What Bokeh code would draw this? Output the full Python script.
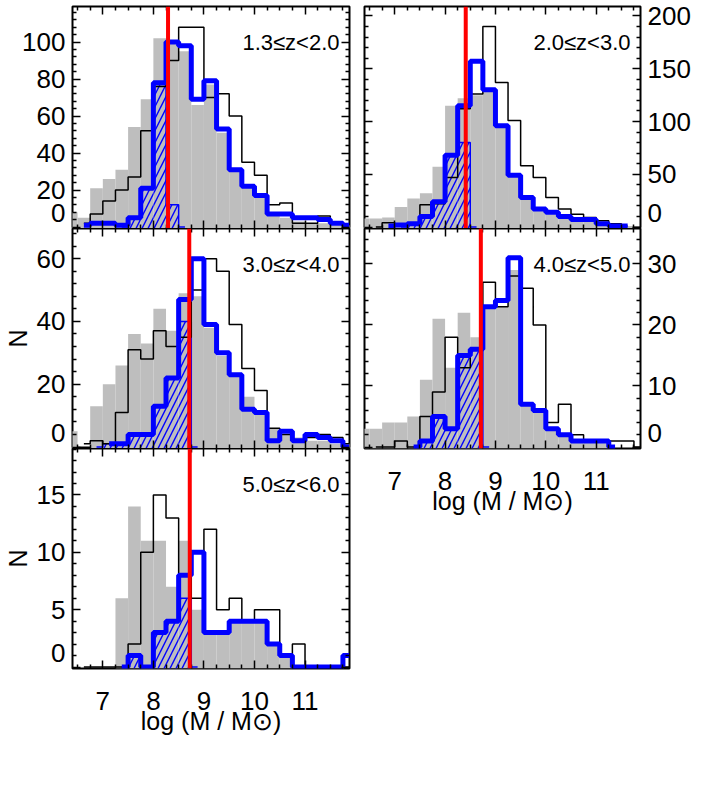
import math
from bokeh.plotting import figure
from bokeh.models import Range1d, LinearAxis, FixedTicker, Span, Label, Grid
from bokeh.layouts import row, column
from bokeh.embed import file_html
from bokeh.resources import INLINE

# ---------------- data ----------------
bin_centers = [6.375, 6.625, 6.875, 7.125, 7.375, 7.625, 7.875, 8.125, 8.375, 8.625,
               8.875, 9.125, 9.375, 9.625, 9.875, 10.125, 10.375, 10.625, 10.875,
               11.125, 11.375, 11.625, 11.875]
bin_width = 0.25
x_ticks = [7, 8, 9, 10, 11]
x_lim = (6.4, 11.88)

z_labels = ["1.3\u2264z<2.0", "2.0\u2264z<3.0", "3.0\u2264z<4.0", "4.0\u2264z<5.0", "5.0\u2264z<6.0"]
cuts = [8.29, 8.41, 8.71, 8.71, 8.72]
y_max = [119.2, 209.0, 69.6, 35.8, 19.05]
y_ticks = [[0, 20, 40, 60, 80, 100], [0, 50, 100, 150, 200], [0, 20, 40, 60],
           [0, 10, 20, 30], [0, 5, 10, 15]]
y_minor_step = [4, 10, 4, 2, 1]

gray_1 = [8, 5, 21, 26, 31, 54, 69, 102, 100, 95, 66, 77, 51, 30, 22, 16, 8, 5, 3, 2, 2, 1, 1]
black_1 = [None, 2, 7, 14, 20, 27, 52, 76, 90, 108, 108, 70, 72, 60, 35, 28, 12, 13, 2, 2, 6, 2, 1]
blue_1 = [None, 1, 2, 2, 1, 5, 21, 78, 100, 98, 69, 79, 53, 31, 22, 17, 7, 7, 5, 5, 4, 2, 1]
hatch_1 = [0, 0, 0, 0, 0, 5, 21, 77, 12, 0, 0, 0, 0, 0, 0, 0, 0, 0, 0, 0, 0, 0, 0]

gray_2 = [8, 8, 9, 19, 27, 32, 57, 115, 122, 125, 128, 95, 48, 28, 17, 12, 9, 7, 6, 4, 2, 1, 0]
black_2 = [None, 0, 4, 3, 3, 21, 22, 47, 112, 126, 190, 137, 101, 58, 47, 28, 17, 12, 9, 6, 3, 1, None]
blue_2 = [None, None, 1, 2, 3, 10, 24, 68, 115, 157, 130, 96, 49, 28, 17, 14, 10, 7, 7, 3, 1, 1, None]
hatch_2 = [0, 0, 0, 0, 3, 10, 24, 68, 80, 0, 0, 0, 0, 0, 0, 0, 0, 0, 0, 0, 0, 0, 0]

gray_3 = [5, 0, 13, 20, 26, 36, 33, 44, 37, 49, 48, 38, 29, 23, 16, 11, 6, 4, 3, 2, 2, 1, 1]
black_3 = [None, 1, 2, 1, 11, 31, 28, 37, 32, 35, 50, 60, 56, 39, 25, 18, 6, 4, 2, 3, 4, 3, 1]
blue_3 = [None, None, None, 1, 1, 4, 4, 13, 22, 47, 60, 39, 30, 23, 12, 11, 2, 5, 2, 4, 3, 2, 0]
hatch_3 = [0, 0, 0, 1, 1, 4, 4, 13, 22, 40, 0, 0, 0, 0, 0, 0, 0, 0, 0, 0, 0, 0, 0]

gray_4 = [3, 3, 4, 4, 5, 11, 21, 13, 22, 18, 23, 23, 29, 7, 6, 3, 2, 1, 1, 1, 0, 0, 0]
black_4 = [None, 0, 0, 1, 0, 5, 9, 18, 13, 16, 27, 23, 28, 26, 20, 4, 7, 2, 1, 1, 1, 1, 0]
blue_4 = [None, None, None, None, 0, 1, 5, 3, 15, 16, 23, 24, 31, 7, 6, 3, 2, 1, 1, 1, 0, None, None]
hatch_4 = [0, 0, 0, 0, 0, 1, 5, 3, 15, 16, 0, 0, 0, 0, 0, 0, 0, 0, 0, 0, 0, 0, 0]

gray_5 = [0, 0, 0, 0, 6, 14, 11, 11, 7, 11, 5, 3, 3, 4, 4, 4, 2, 1, 0, 0, 0, 0, 0]
black_5 = [None, 0, 0, 0, 0, 2, 10, 15, 13, 8, 6, 12, 5, 6, 4, 5, 5, 1, 2, 0, 0, 0, 0]
blue_5 = [None, None, None, None, 0, 1, 0, 3, 4, 8, 10, 3, 3, 4, 4, 4, 2, 1, 0, 0, 0, 0, 1]
hatch_5 = [0, 0, 0, 0, 0, 1, 0, 3, 4, 6, 0, 0, 0, 0, 0, 0, 0, 0, 0, 0, 0, 0, 0]

x_title = "log (M / M\u2299)"
y_title = "N"

GRAY = "#bebebe"
BLUE = "#0000ff"
RED = "#ff0000"
FONT = "Liberation Sans"
FRAME_H = [222, 222, 220, 220, 220]


def trim(xs, ys):
    pts = [(x, y) for x, y in zip(xs, ys) if y is not None]
    return [q[0] for q in pts], [q[1] for q in pts]


x_minor = [6.5 + 0.25 * k for k in range(22)]
x_minor = [v for v in x_minor if v <= x_lim[1] and abs(v - round(v)) > 1e-9]


def tick_axis(p, place, ticks, minor):
    """Axis that only draws inward tick marks (IDL-style box)."""
    ax = LinearAxis(ticker=FixedTicker(ticks=ticks, minor_ticks=minor))
    ax.axis_line_color = None
    ax.major_tick_in = 8
    ax.major_tick_out = 0
    ax.minor_tick_in = 4
    ax.minor_tick_out = 0
    ax.major_tick_line_width = 1.5
    ax.minor_tick_line_width = 1.5
    ax.major_tick_line_color = "black"
    ax.minor_tick_line_color = "black"
    ax.major_label_text_font_size = "0px"
    ax.major_label_text_color = None
    ax.major_label_standoff = 0
    p.add_layout(ax, place)
    return ax


def label_axis(p, place, ticks, overrides, standoff):
    """Axis that only draws tick labels."""
    ax = LinearAxis(ticker=FixedTicker(ticks=ticks, minor_ticks=[]))
    ax.axis_line_color = None
    ax.major_tick_in = 0
    ax.major_tick_out = 0
    ax.minor_tick_in = 0
    ax.minor_tick_out = 0
    ax.major_tick_line_color = None
    ax.minor_tick_line_color = None
    ax.major_label_text_font = FONT
    ax.major_label_text_font_size = "26px"
    ax.major_label_text_color = "black"
    ax.major_label_standoff = standoff
    ax.major_label_overrides = overrides
    p.add_layout(ax, place)
    return ax


def make_panel(i, gray, black, blue, hatch, left_col, show_x, show_n, first_row):
    fh = FRAME_H[i]
    y_lo = -1.5 * y_max[i] / fh
    p = figure(
        frame_width=277 if left_col else 276, frame_height=fh,
        x_range=Range1d(*x_lim), y_range=Range1d(y_lo, y_max[i]),
        x_axis_location=None, y_axis_location=None,
        toolbar_location=None, output_backend="svg",
        min_border_left=70 if left_col else 8,
        min_border_right=7 if left_col else 63,
        min_border_top=6 if first_row else 0,
        min_border_bottom=75 if show_x else 0,
    )
    for r in list(p.center):
        if isinstance(r, Grid):
            r.visible = False
    p.outline_line_color = "black"
    p.outline_line_width = 2
    p.background_fill_color = "white"
    p.border_fill_color = "white"

    step = y_minor_step[i]
    majors = y_ticks[i]
    y_minor = [step * k for k in range(1, int(y_max[i] / step) + 1) if step * k not in majors]
    # raised position of the "0" label, as in the original
    z0 = round(y_lo + 15.5 * (y_max[i] - y_lo) / fh, 3)
    lab_ticks = [z0] + majors[1:]

    # x axes
    if show_x:
        bx_ax = tick_axis(p, "below", x_ticks, x_minor)
        bx_ax.major_label_text_font = FONT
        bx_ax.major_label_text_font_size = "26px"
        bx_ax.major_label_text_color = "black"
        bx_ax.major_label_standoff = 23
        bx_ax.axis_label = x_title
        bx_ax.axis_label_text_font = FONT
        bx_ax.axis_label_text_font_size = "25px"
        bx_ax.axis_label_text_font_style = "normal"
        bx_ax.axis_label_text_color = "black"
        bx_ax.axis_label_standoff = -6
    else:
        tick_axis(p, "below", x_ticks, x_minor)
    tick_axis(p, "above", x_ticks, x_minor)

    # y axes
    if left_col:
        tick_axis(p, "left", majors, y_minor)
        la = label_axis(p, "left", lab_ticks, {z0: "0"}, 7)
        tick_axis(p, "right", majors, y_minor)
    else:
        tick_axis(p, "right", majors, y_minor)
        la = label_axis(p, "right", lab_ticks, {z0: "0"}, 7)
        tick_axis(p, "left", majors, y_minor)
    if show_n:
        la.axis_label = y_title
        la.axis_label_text_font = FONT
        la.axis_label_text_font_size = "25px"
        la.axis_label_text_font_style = "normal"
        la.axis_label_text_color = "black"
        la.axis_label_standoff = 2

    # gray filled histogram
    gl = [c - bin_width / 2 for c, g in zip(bin_centers, gray) if g > 0]
    gr = [c + bin_width / 2 for c, g in zip(bin_centers, gray) if g > 0]
    gt = [g for g in gray if g > 0]
    p.quad(left=gl, right=gr, bottom=y_lo, top=gt, fill_color=GRAY, line_color=None)

    # hatched sub-histogram
    nz = [k for k, h in enumerate(hatch) if h > 0]
    hl = [bin_centers[k] - bin_width / 2 for k in nz]
    hr = [bin_centers[k] + bin_width / 2 for k in nz]
    ht = [hatch[k] for k in nz]
    p.quad(left=hl, right=hr, bottom=y_lo, top=ht, fill_color=None, line_color=None,
           hatch_pattern="/", hatch_color=BLUE, hatch_weight=1.4, hatch_scale=12)
    k0, k1 = max(nz[0] - 1, 0), min(nz[-1] + 2, len(hatch))
    p.step(x=bin_centers[k0:k1], y=hatch[k0:k1], mode="center",
           line_color=BLUE, line_width=1.5)

    bx, by = trim(bin_centers, black)
    p.step(x=bx, y=by, mode="center", line_color="black", line_width=1.5)
    ux, uy = trim(bin_centers, blue)
    p.step(x=ux, y=uy, mode="center", line_color=BLUE, line_width=5)

    p.add_layout(Span(location=cuts[i], dimension="height", line_color=RED, line_width=4))

    # redshift label (inside the frame)
    p.add_layout(Label(x=x_lim[1], y=y_max[i], x_offset=-10, y_offset=-36, text=z_labels[i],
                       text_align="right", text_baseline="middle", text_font=FONT,
                       text_font_size="22px", text_color="black"))
    return p


p1 = make_panel(0, gray_1, black_1, blue_1, hatch_1, True, False, False, True)
p2 = make_panel(1, gray_2, black_2, blue_2, hatch_2, False, False, False, True)
p3 = make_panel(2, gray_3, black_3, blue_3, hatch_3, True, False, True, False)
p4 = make_panel(3, gray_4, black_4, blue_4, hatch_4, False, True, False, False)
p5 = make_panel(4, gray_5, black_5, blue_5, hatch_5, True, True, True, False)

layout = row(column(p1, p3, p5), column(p2, p4))

open("out.html", "w").write(file_html(layout, INLINE))
